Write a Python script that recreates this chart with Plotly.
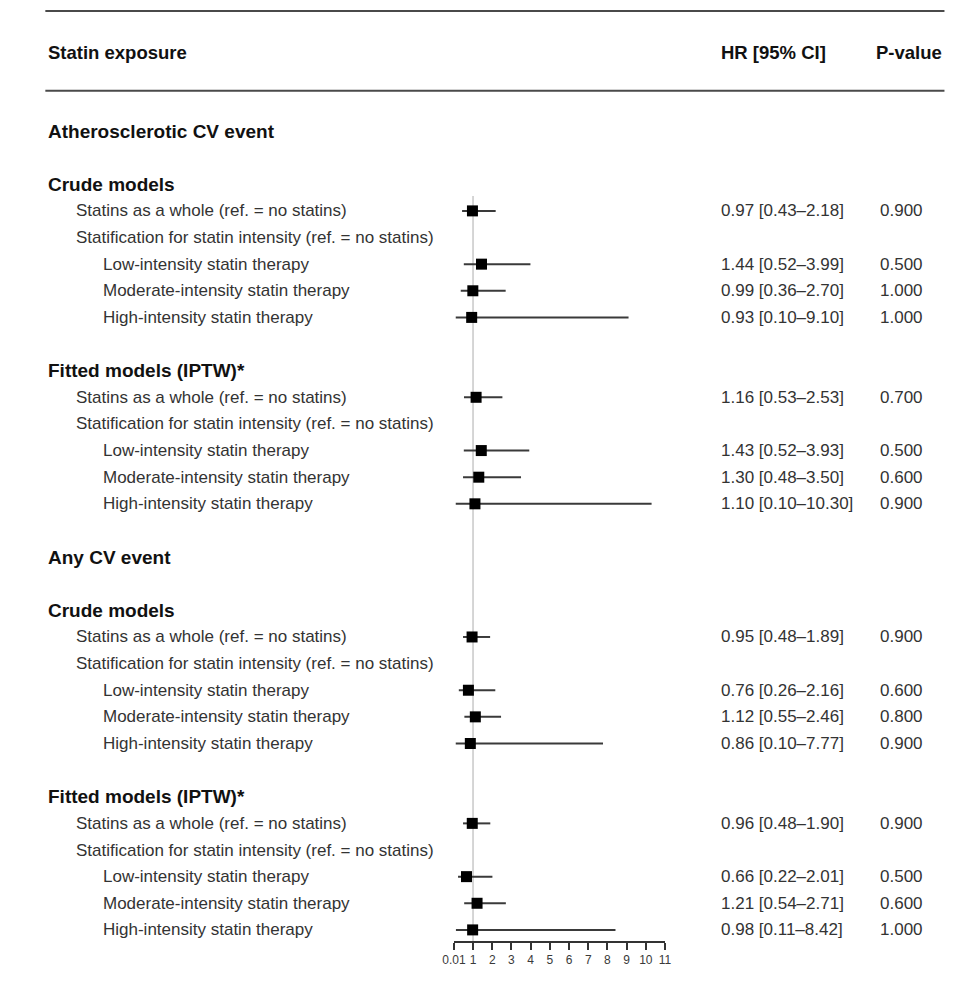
import plotly.graph_objects as go

# ---------------- data ----------------
row_labels = [
    "Atherosclerotic CV event", "", "Crude models",
    "Statins as a whole (ref. = no statins)",
    "Statification for statin intensity (ref. = no statins)",
    "Low-intensity statin therapy", "Moderate-intensity statin therapy", "High-intensity statin therapy",
    "", "Fitted models (IPTW)*",
    "Statins as a whole (ref. = no statins)",
    "Statification for statin intensity (ref. = no statins)",
    "Low-intensity statin therapy", "Moderate-intensity statin therapy", "High-intensity statin therapy",
    "", "Any CV event", "", "Crude models",
    "Statins as a whole (ref. = no statins)",
    "Statification for statin intensity (ref. = no statins)",
    "Low-intensity statin therapy", "Moderate-intensity statin therapy", "High-intensity statin therapy",
    "", "Fitted models (IPTW)*",
    "Statins as a whole (ref. = no statins)",
    "Statification for statin intensity (ref. = no statins)",
    "Low-intensity statin therapy", "Moderate-intensity statin therapy", "High-intensity statin therapy",
]
# 0 = outcome heading, 1 = model heading, 2 = first-level item, 3 = second-level item
row_levels = [0, -1, 1, 2, 2, 3, 3, 3, -1, 1, 2, 2, 3, 3, 3,
              -1, 0, -1, 1, 2, 2, 3, 3, 3, -1, 1, 2, 2, 3, 3, 3]

data_rows = [3, 5, 6, 7, 10, 12, 13, 14, 19, 21, 22, 23, 26, 28, 29, 30]
hr = [0.97, 1.44, 0.99, 0.93, 1.16, 1.43, 1.30, 1.10,
      0.95, 0.76, 1.12, 0.86, 0.96, 0.66, 1.21, 0.98]
ci_low = [0.43, 0.52, 0.36, 0.10, 0.53, 0.52, 0.48, 0.10,
          0.48, 0.26, 0.55, 0.10, 0.48, 0.22, 0.54, 0.11]
ci_high = [2.18, 3.99, 2.70, 9.10, 2.53, 3.93, 3.50, 10.30,
           1.89, 2.16, 2.46, 7.77, 1.90, 2.01, 2.71, 8.42]
p_values = ["0.900", "0.500", "1.000", "1.000", "0.700", "0.500", "0.600", "0.900",
            "0.900", "0.600", "0.800", "0.900", "0.900", "0.500", "0.600", "1.000"]
hr_text = ["0.97 [0.43–2.18]", "1.44 [0.52–3.99]", "0.99 [0.36–2.70]", "0.93 [0.10–9.10]",
           "1.16 [0.53–2.53]", "1.43 [0.52–3.93]", "1.30 [0.48–3.50]", "1.10 [0.10–10.30]",
           "0.95 [0.48–1.89]", "0.76 [0.26–2.16]", "1.12 [0.55–2.46]", "0.86 [0.10–7.77]",
           "0.96 [0.48–1.90]", "0.66 [0.22–2.01]", "1.21 [0.54–2.71]", "0.98 [0.11–8.42]"]
tick_vals = [0.01, 1, 2, 3, 4, 5, 6, 7, 8, 9, 10, 11]
tick_text = ["0.01", "1", "2", "3", "4", "5", "6", "7", "8", "9", "10", "11"]
header = ["Statin exposure", "HR [95% CI]", "P-value"]

# ---------------- layout helpers ----------------
W, H = 975, 989
ROW0_PX, ROW_STEP = 131.0, 26.63
AXIS_PX = 941.0


def px_to_row(py):
    return (py - ROW0_PX) / ROW_STEP


FONT = "Liberation Sans, Arial, sans-serif"
indent_px = {0: 35, 1: 35, 2: 63, 3: 91}
HR_X, P_X = 721, 883

fig = go.Figure()

# CI whiskers + squares
fig.add_trace(go.Scatter(
    x=hr, y=data_rows, mode="markers",
    marker=dict(symbol="square", size=11, color="#000000"),
    error_x=dict(type="data", symmetric=False,
                 array=[h - m for m, h in zip(hr, ci_high)],
                 arrayminus=[m - l for m, l in zip(hr, ci_low)],
                 color="#3a3a3a", thickness=2, width=0),
    cliponaxis=False, showlegend=False, hoverinfo="skip",
))

annotations = []
for r, (lab, lev) in enumerate(zip(row_labels, row_levels)):
    if not lab:
        continue
    bold = lev in (0, 1)
    annotations.append(dict(
        x=indent_px[lev] / W, y=r, xref="paper", yref="y",
        text=f"<b>{lab}</b>" if bold else lab,
        showarrow=False, xanchor="left", yanchor="middle",
        font=dict(family=FONT, size=19 if bold else 17,
                  color="#111111" if bold else "#333333"),
    ))
for r, t, p in zip(data_rows, hr_text, p_values):
    annotations.append(dict(x=HR_X / W, y=r, xref="paper", yref="y", text=t,
                            showarrow=False, xanchor="left", yanchor="middle",
                            font=dict(family=FONT, size=17, color="#333333")))
    annotations.append(dict(x=P_X / W, y=r, xref="paper", yref="y", text=p,
                            showarrow=False, xanchor="left", yanchor="middle",
                            font=dict(family=FONT, size=17, color="#333333")))

header_y = px_to_row(52)
for txt, xp, anchor in [(header[0], 35, "left"), (header[1], HR_X, "left"), (header[2], 951, "right")]:
    annotations.append(dict(x=xp / W, y=header_y, xref="paper", yref="y",
                            text=f"<b>{txt}</b>", showarrow=False,
                            xanchor=anchor, yanchor="middle",
                            font=dict(family=FONT, size=18.5, color="#111111")))

shapes = [
    dict(type="line", xref="paper", yref="paper", x0=34 / W, x1=951 / W,
         y0=1 - 11 / H, y1=1 - 11 / H, line=dict(color="#4a4a4a", width=2)),
    dict(type="line", xref="paper", yref="paper", x0=34 / W, x1=951 / W,
         y0=1 - 90.7 / H, y1=1 - 90.7 / H, line=dict(color="#4a4a4a", width=2)),
    dict(type="line", xref="x", yref="y", x0=1, x1=1,
         y0=px_to_row(196), y1=px_to_row(AXIS_PX),
         line=dict(color="#c8c8c8", width=1.5), layer="below"),
]

x0_px, x11_px = 450.8, 666.0
fig.update_layout(
    width=W, height=H, margin=dict(l=0, r=0, t=0, b=0),
    paper_bgcolor="white", plot_bgcolor="white",
    annotations=annotations, shapes=shapes, showlegend=False,
    xaxis=dict(domain=[x0_px / W, x11_px / W], range=[0.01, 11],
               tickmode="array", tickvals=tick_vals, ticktext=tick_text,
               showgrid=False, zeroline=False, showline=True,
               linecolor="#333333", linewidth=1.5,
               ticks="outside", ticklen=7, tickwidth=1.5, tickcolor="#333333",
               tickfont=dict(family=FONT, size=12, color="#3a3a3a"),
               fixedrange=True),
    yaxis=dict(domain=[1 - AXIS_PX / H, 1],
               range=[px_to_row(AXIS_PX), px_to_row(0)],
               visible=False, showgrid=False, zeroline=False, fixedrange=True),
)

fig.write_html("out.html")
